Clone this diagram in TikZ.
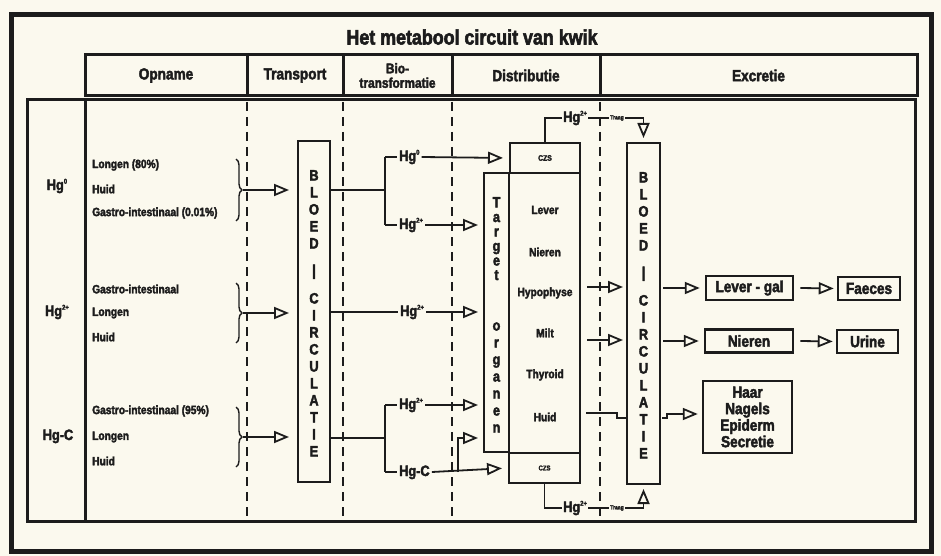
\documentclass[tikz,border=0pt]{standalone}
\usepackage{fontspec}
\newfontfamily\cf[FakeStretch=0.85,BoldFeatures={FakeBold=2.6}]{Liberation Sans}
\usetikzlibrary{arrows.meta,decorations.pathreplacing}
\definecolor{paper}{HTML}{FBF9EE}
\definecolor{ink}{HTML}{1C1C1C}
\newcommand\fsz[1]{\fontsize{#1}{#1}\selectfont}
\newcommand\hsup[1]{\raisebox{0.42em}{\fsz{7}#1}}
\begin{document}
\begin{tikzpicture}[x=1pt,y=-1pt,color=ink,
  every node/.style={inner sep=2pt},
  ln/.style={line width=1.8pt},
  arr/.style={line width=1.8pt,-{Triangle[open,length=15pt,width=12pt,line width=1.8pt]}},
  dsh/.style={line width=1.1pt,dash pattern=on 9pt off 6pt},
  hdr/.style={draw,line width=3pt,minimum height=41pt,inner sep=0pt,font=\cf\bfseries\fsz{16}},
  bx/.style={draw,line width=2pt,inner sep=0pt},
  ebx/.style={draw,line width=2.5pt,inner sep=0pt,font=\cf\bfseries\fsz{16}},
  small/.style={font=\cf\bfseries\fsz{12}},
  org/.style={font=\cf\bfseries\fsz{12}},
  big/.style={font=\cf\bfseries\fsz{15},text height=11pt,text depth=3pt},
  lt/.style={font=\cf\bfseries\fsz{15},inner sep=0pt,text height=11pt,text depth=0pt},
  tiny/.style={font=\cf\bfseries\fsz{6},inner sep=1pt},
  brc/.style={line width=1.4pt,decorate,decoration={brace,amplitude=6pt}},
]
\fill[paper] (0,0) rectangle (941,556);
\useasboundingbox (0,0) rectangle (941,556);

% frame
\draw[line width=5pt] (11.5,15) rectangle (931.5,551.5);
\node[font=\cf\bfseries\fsz{21}] (title) at (472,37) {Het metabool circuit van kwik};

% headers
\node[hdr,minimum width=162pt] (hOp) at (166,75.5) {Opname};
\node[hdr,minimum width=96pt] (hTr) at (295,75.5) {Transport};
\node[hdr,minimum width=109pt,align=center,font=\cf\bfseries\fontsize{14}{14.5}\selectfont] (hBio) at (397.5,75.5) {Bio-\\transformatie};
\node[hdr,minimum width=148pt] (hDi) at (526,75.5) {Distributie};
\node[hdr,minimum width=317pt] (hEx) at (758.5,75.5) {Excretie};

% main box
\draw[line width=3pt] (27,100) rectangle (915,521);
\draw[line width=3pt] (85,100) -- (85,521);
\foreach \x in {247,343,452,600} \draw[dsh] (\x,102) -- (\x,517);

% left labels
\node[big] (hg0) at (57,186) {Hg\hsup{0}};
\node[big] (hg2) at (57,312) {Hg\hsup{2+}};
\node[big] (hgc) at (58,436) {Hg-C};

% opname
\node[small,anchor=west] (o1) at (90,165) {Longen (80\%)};
\node[small,anchor=west] (o2) at (90,189) {Huid};
\node[small,anchor=west] (o3) at (90,213) {Gastro-intestinaal (0.01\%)};
\node[small,anchor=west] (o4) at (90,289) {Gastro-intestinaal};
\node[small,anchor=west] (o5) at (90,313) {Longen};
\node[small,anchor=west] (o6) at (90,337) {Huid};
\node[small,anchor=west] (o7) at (90,411) {Gastro-intestinaal (95\%)};
\node[small,anchor=west] (o8) at (90,437) {Longen};
\node[small,anchor=west] (o9) at (90,461) {Huid};

\draw[brc] (236,159) -- (236,221);
\draw[brc] (236,283) -- (236,343);
\draw[brc] (236,407) -- (236,467);

% blood left
\node[bx,minimum width=32pt,minimum height=341pt] (bloodL) at (314,311.5) {};
\foreach \l/\dy [count=\i] in {B/0,L/17,O/34,E/51,D/68,|/95,C/123,I/140,R/157,C/174,U/191,L/208,A/225,T/242,I/259,E/276}
  \node[lt] (bl\i) at (314,175+\dy) {\l};
\coordinate (b1) at (243,190);
\coordinate (b2) at (243,313);
\coordinate (b3) at (243,437);
\draw[arr,shorten >=8pt] (b1) -- (bloodL.west |- b1);
\draw[arr,shorten >=8pt] (b2) -- (bloodL.west |- b2);
\draw[arr,shorten >=8pt] (b3) -- (bloodL.west |- b3);

% distribution boxes
\node[bx,minimum width=70pt,minimum height=30pt,font=\cf\bfseries\fsz{8}] (czsT) at (545,158) {CZS};
\node[bx,minimum width=25pt,minimum height=279pt] (tgt) at (496.5,312.5) {};
\node[bx,minimum width=71pt,minimum height=280pt] (org) at (544.5,313) {};
\node[bx,minimum width=71pt,minimum height=30pt,font=\cf\bfseries\fsz{7}] (czsB) at (544.5,468) {CZS};
\foreach \l/\y [count=\i] in {T/202,a/216.5,r/231,g/245.5,e/260,t/274.5,o/325,r/342,g/359,a/376,n/393,e/410,n/427}
  \node[lt] (tg\i) at (496.5,\y) {\l};
\node[org] (lever) at (545,210) {Lever};
\node[org] (nier) at (545,252) {Nieren};
\node[org] (hypo) at (545,293) {Hypophyse};
\node[org] (milt) at (545,333) {Milt};
\node[org] (thy) at (545,375) {Thyroid};
\node[org] (huid) at (545,417) {Huid};

% biotransformation
\coordinate (j1) at (385,190);
\coordinate (j1a) at (385,157);
\coordinate (j1b) at (385,225);
\draw[ln] (bloodL.east |- j1) -- (j1);
\draw[ln] (j1a) -- (j1b);
\node[big,anchor=west] (bh0) at (397,157) {Hg\hsup{0}};
\node[big,anchor=west] (bh1) at (397,225) {Hg\hsup{2+}};
\draw[ln] (j1a) -- (bh0.west);
\draw[ln] (j1b) -- (bh1.west);
\draw[arr,shorten >=6pt] (bh0.east) -- (czsT.west);
\draw[arr,shorten >=5pt] (bh1.east) -- (tgt.west |- bh1);

\node[big,anchor=west] (bh2) at (398,312) {Hg\hsup{2+}};
\draw[ln] (bloodL.east |- bh2) -- (bh2.west);
\draw[arr,shorten >=5pt] (bh2.east) -- (tgt.west |- bh2);

\coordinate (j3) at (385,438);
\coordinate (j3a) at (385,405);
\coordinate (j3b) at (385,472);
\draw[ln] (bloodL.east |- j3) -- (j3);
\draw[ln] (j3a) -- (j3b);
\node[big,anchor=west] (bh3) at (397,405) {Hg\hsup{2+}};
\node[big,anchor=west] (bh4) at (397,472) {Hg-C};
\draw[ln] (j3a) -- (bh3.west);
\draw[ln] (j3b) -- (bh4.west);
\draw[arr,shorten >=5pt] (bh3.east) -- (tgt.west |- bh3);
\draw[arr,shorten >=6pt] (bh4.east) -- (czsB.west);
\coordinate (k1) at (458,472);
\coordinate (k2) at (458,438);
\draw[arr,shorten >=5pt] (k1) -- (k2) -- (tgt.west |- k2);

% blood right
\node[bx,minimum width=33pt,minimum height=341pt] (bloodR) at (643.5,313.5) {};
\foreach \l/\dy [count=\i] in {B/0,L/17,O/34,E/51,D/68,|/95,C/123,I/140,R/157,C/174,U/191,L/208,A/225,T/242,I/259,E/276}
  \node[lt] (br\i) at (643.5,177+\dy) {\l};

% traag paths
\coordinate (t1) at (545,118);
\node[big,anchor=west,inner sep=1pt] (hgT) at (562,118) {Hg\hsup{2+}};
\node[tiny] (trT) at (617,118) {Traag};
\draw[ln] (czsT.north) -- (t1) -- (hgT.west);
\draw[ln] (hgT.east) -- (trT.west);
\draw[arr,shorten >=4pt] (trT.east) -| (bloodR.north);

\coordinate (t2) at (544.5,508);
\node[big,anchor=west,inner sep=1pt] (hgB) at (562,508) {Hg\hsup{2+}};
\node[tiny] (trB) at (617,508) {Traag};
\draw[ln] (czsB.south) -- (t2) -- (hgB.west);
\draw[ln] (hgB.east) -- (trB.west);
\draw[arr,shorten >=4pt] (trB.east) -| (bloodR.south);

% organs to blood
\coordinate (r1) at (587,287);
\coordinate (r2) at (587,340);
\draw[arr,shorten >=3pt] (r1) -- (bloodR.west |- r1);
\draw[arr,shorten >=3pt] (r2) -- (bloodR.west |- r2);
\coordinate (h1) at (586,413);
\coordinate (h2) at (617,413);
\coordinate (h3) at (617,418);
\draw[ln] (h1) -- (h2) -- (h3) -- (bloodR.west |- h3);

% excretion
\node[ebx,minimum width=87pt,minimum height=24pt] (lg) at (749.5,288) {Lever - gal};
\node[ebx,minimum width=62pt,minimum height=23pt] (fa) at (869,288.5) {Faeces};
\node[ebx,minimum width=88pt,minimum height=23pt] (ni) at (749,341) {Nieren};
\node[ebx,minimum width=61pt,minimum height=23pt] (ur) at (867.5,341.5) {Urine};
\node[ebx,minimum width=89pt,minimum height=72pt,align=center,font=\cf\bfseries\fontsize{16}{16.5}\selectfont] (ha) at (747.5,417) {Haar\\Nagels\\Epiderm\\Secretie};
\coordinate (e1) at (663,288);
\coordinate (e2) at (663,341);
\draw[arr,shorten >=5pt] (e1) -- (lg.west |- e1);
\draw[arr,shorten >=5pt] (e2) -- (ni.west |- e2);
\draw[arr,shorten >=3pt] ([xshift=6pt]lg.east) -- (fa.west);
\draw[arr,shorten >=3pt] ([xshift=6pt]ni.east) -- (ur.west);
\coordinate (e3) at (662,418);
\coordinate (e4) at (667,418);
\coordinate (e5) at (667,414);
\draw[arr,shorten >=4pt] (e3) -- (e4) -- (e5) -- (ha.west |- e5);
\end{tikzpicture}
\end{document}
